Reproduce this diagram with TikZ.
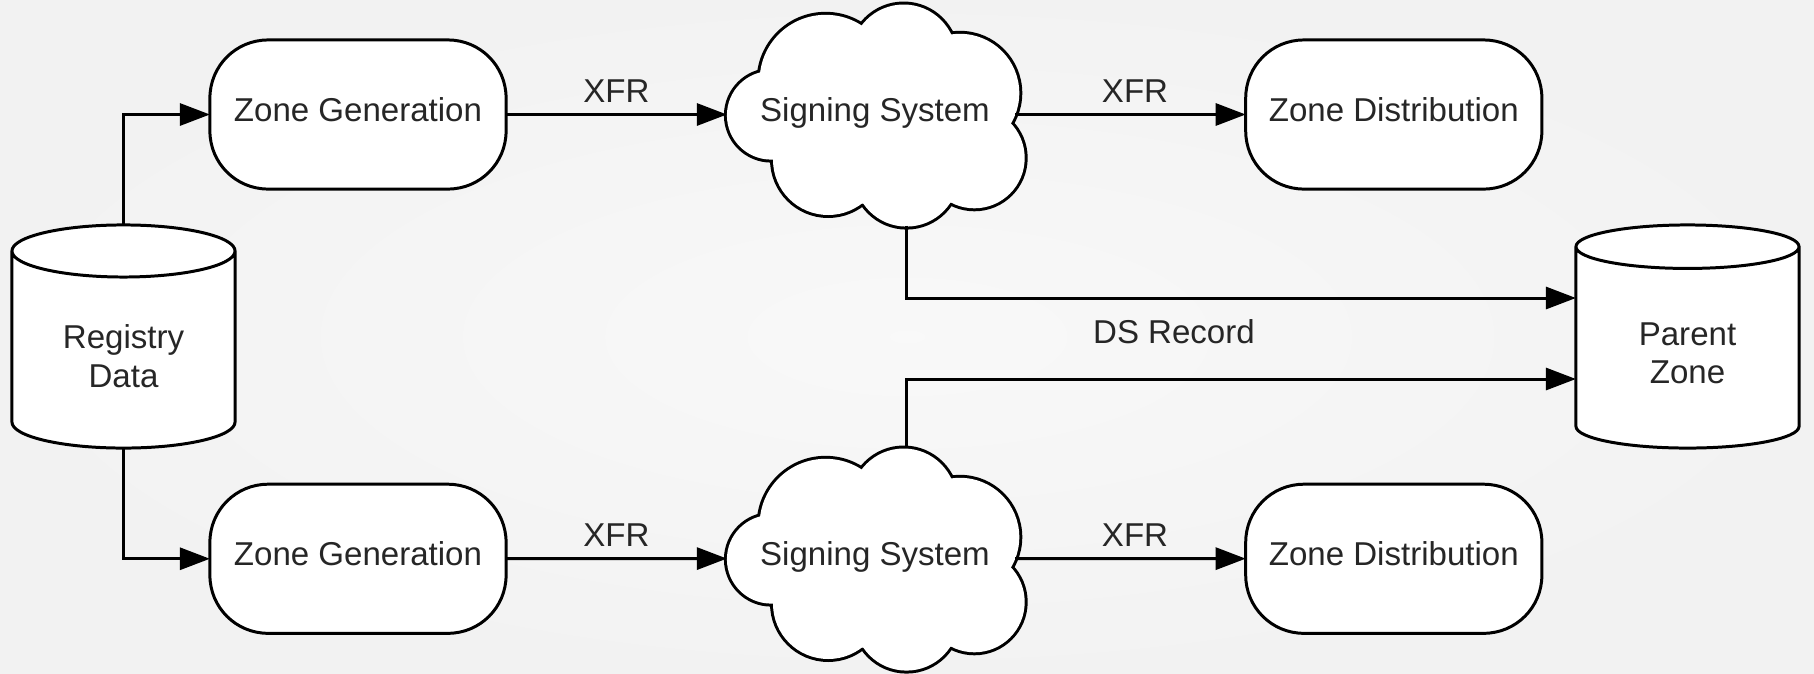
\documentclass[tikz,border=0pt]{standalone}
\usepackage{fontspec}
\setmainfont{Liberation Sans}
\usetikzlibrary{positioning}
\usetikzlibrary{shapes.geometric}
\usetikzlibrary{arrows.meta}
\usetikzlibrary{calc}
\newcommand\puffs{-103.8/0.8/44.3, -49.4/-33.7/66, 28.7/-57.4/52.6, 85/-21.4/59.3, 99.4/43.5/50.3, 31.5/60/52.1, -46.8/45.3/55.2}
\tikzset{
	zone/.style={
		rectangle,
		draw,
		fill=white,
		align=center,
		minimum width=2.96cm,
		minimum height=1.49cm,
		rounded corners=.58cm,
		text height=.75em,
		text depth=.36em
	},
	store/.style={
		cylinder,
		shape border rotate=90,
		draw,
		fill=white,
		align=center,
		aspect=.36,
		minimum width=2.23cm,
		minimum height=2.23cm
	},
	signing/.style={
		rectangle,
		align=center,
		minimum width=2.96cm,
		minimum height=2.22cm,
		text height=.75em,
		text depth=.36em
	},
	link/.style={
		-{Triangle[length=.3cm,width=.22cm]}
	},
	cloud outline/.pic={
		\foreach \cx/\cy/\r in \puffs
			\draw[line width=1.7pt] (\cx,\cy) circle[radius=\r];
		\fill[white] (-115,-42) -- (-13,-89) -- (76,-80) -- (136,9) -- (76,88) -- (-13,89) -- (-102,45) -- cycle;
		\foreach \cx/\cy/\r in \puffs
			\fill[white] (\cx,\cy) circle[radius=\r];
	}
}

\begin{document}
\begin{tikzpicture}[x=.01cm, y=-.01cm, line width=.85pt,
		every node/.style={font=\fontsize{9.4}{10.9}\selectfont, text=black!85, outer sep=0pt}]
		\shade[inner color=gray!5, outer color=gray!10] (0,0) rectangle (1814,673);
		
		\pic at (875,114.5) {cloud outline};
		\pic at (875,558.5) {cloud outline};
		
		\draw node[store, anchor=shape center](Registry) at (123.5,336.5) {Registry\\ Data};
		\draw node[store, anchor=shape center](Parent) at (1687.5,336.5) {Parent\\ Zone};
		\draw node[zone](Gen1) at (358,114.5) {Zone Generation};
		\draw node[signing](Sign1) at (875,114.5) {Signing System};
		\draw node[zone, right=2.225cm of Sign1](Dist1){Zone Distribution};
		\draw node[zone, below=2.95cm of Gen1](Gen2){Zone Generation};
		\draw node[signing](Sign2) at (875,558.5) {Signing System};
		\draw node[zone, below=2.95cm of Dist1](Dist2){Zone Distribution};
		
		\draw[link] (Registry) |- (Gen1);
		\draw[link] (Registry) |- (Gen2);
		\draw[link] (Gen1) -- node[midway, above]{XFR} (Sign1);
		\draw[link] ([xshift=1.4cm]Sign1.center) -- node[pos=.52, above]{XFR} (Dist1);
		\draw[link] (Gen2) -- node[midway, above]{XFR} (Sign2);
		\draw[link] ([xshift=1.4cm]Sign2.center) -- node[pos=.52, above]{XFR} (Dist2);
		\draw[link] ([xshift=.31cm]Sign1.south) |- node[pos=.7, below=.1cm]{DS Record} ($(Parent.shape center -| Parent.west)+(0,-38.5)$);
		\draw[link] ([xshift=.31cm]Sign2.north) |- ($(Parent.shape center -| Parent.west)+(0,42.5)$);
	\end{tikzpicture}
\end{document}
